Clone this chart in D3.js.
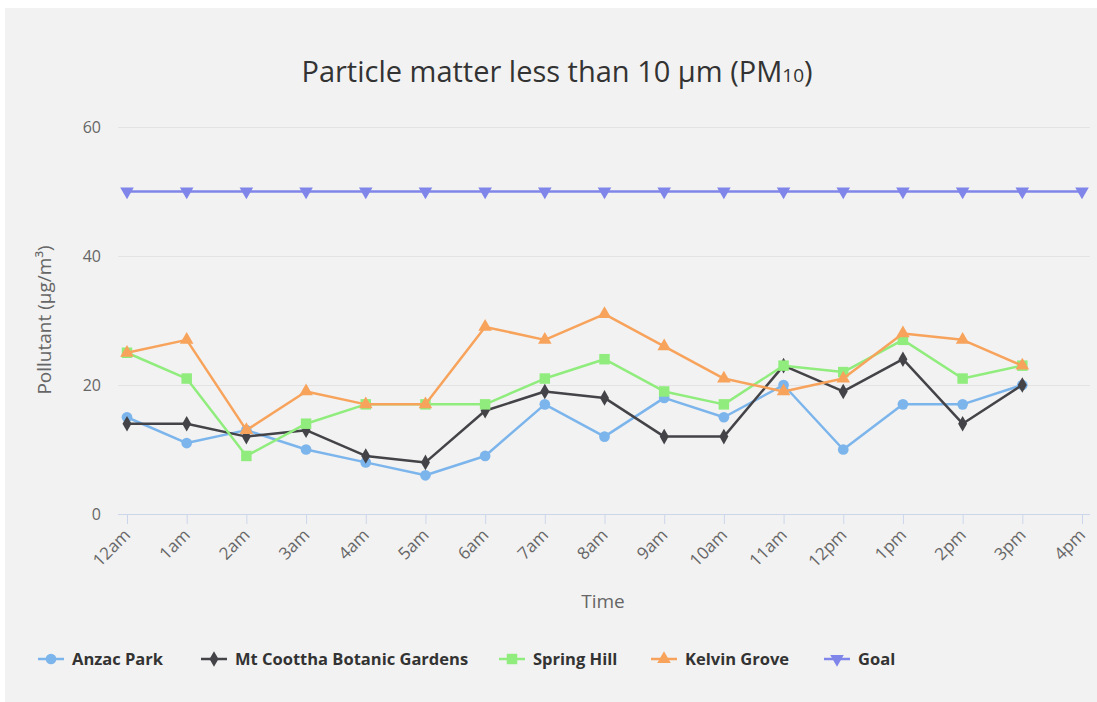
<!DOCTYPE html>
<html>
<head>
<meta charset="utf-8">
<script src="https://cdn.jsdelivr.net/npm/d3@7"></script>
<style>
  body { margin: 0; background: #fff; }
  svg { display: block; font-family: "Open Sans", sans-serif; }
</style>
</head>
<body>
<svg id="chart" width="1097" height="702"></svg>
<script>
const width = 1097;
const height = 702;

// Data
const hours = ["12am", "1am", "2am", "3am", "4am", "5am", "6am", "7am", "8am",
  "9am", "10am", "11am", "12pm", "1pm", "2pm", "3pm", "4pm"];
const anzacPark = [15, 11, 13, 10, 8, 6, 9, 17, 12, 18, 15, 20, 10, 17, 17, 20];
const mtCoottha = [14, 14, 12, 13, 9, 8, 16, 19, 18, 12, 12, 23, 19, 24, 14, 20];
const springHill = [25, 21, 9, 14, 17, 17, 17, 21, 24, 19, 17, 23, 22, 27, 21, 23];
const kelvinGrove = [25, 27, 13, 19, 17, 17, 29, 27, 31, 26, 21, 19, 21, 28, 27, 23];
const goal = [50, 50, 50, 50, 50, 50, 50, 50, 50, 50, 50, 50, 50, 50, 50, 50, 50];
const yTicks = [0, 20, 40, 60];

const series = [
  { name: "Anzac Park", values: anzacPark, color: "#7cb5ec", symbol: d3.symbolCircle, size: 90, lx: 38 },
  { name: "Mt Coottha Botanic Gardens", values: mtCoottha, color: "#434348", symbol: d3.symbolDiamond, size: 70, lx: 201 },
  { name: "Spring Hill", values: springHill, color: "#90ed7d", symbol: d3.symbolSquare, size: 110, lx: 499 },
  { name: "Kelvin Grove", values: kelvinGrove, color: "#f7a35c", symbol: d3.symbolTriangle, size: 80, lx: 651 },
  { name: "Goal", values: goal, color: "#8085e9", symbol: d3.symbolTriangle, size: 80, down: true, lx: 824 }
];

const svg = d3.select("#chart");

// panel background
svg.append("rect")
  .attr("x", 5).attr("y", 8)
  .attr("width", width - 5).attr("height", height - 8)
  .attr("fill", "#f2f2f2");

const x = d3.scalePoint().domain(hours).range([127, 1082]);
const y = d3.scaleLinear().domain([0, 60]).range([514, 127]);

// title
const title = svg.append("text")
  .attr("x", 557).attr("y", 82)
  .attr("text-anchor", "middle")
  .attr("font-size", 29)
  .attr("fill", "#333");
title.append("tspan").text("Particle matter less than 10 µm (PM");
title.append("tspan").attr("font-size", 19).text("10");
title.append("tspan").text(")");

// grid + y labels
const yAxis = d3.axisLeft(y).tickValues(yTicks).tickSize(-(1090 - 118)).tickPadding(17);
const gy = svg.append("g").attr("transform", "translate(118,0)").call(yAxis);
gy.select(".domain").remove();
gy.selectAll(".tick line").attr("stroke", "#e3e3e3");
gy.selectAll(".tick text").attr("font-size", 16).attr("fill", "#666")
  .attr("font-family", "Open Sans, sans-serif");

// x axis
const xAxis = d3.axisBottom(x).tickSize(10);
const gx = svg.append("g").attr("transform", "translate(0,514)").call(xAxis);
gx.select(".domain").attr("stroke", "#ccd6eb").attr("d", "M118,0.5H1090");
gx.selectAll(".tick line").attr("stroke", "#ccd6eb");
gx.selectAll(".tick text")
  .attr("font-size", 17).attr("fill", "#666")
  .attr("font-family", "Open Sans, sans-serif")
  .attr("text-anchor", "end")
  .attr("y", 0)
  .attr("dy", null)
  .attr("transform", "translate(4,22) rotate(-45)");

// axis titles
svg.append("text")
  .attr("transform", "translate(51,320) rotate(-90)")
  .attr("text-anchor", "middle")
  .attr("font-size", 19).attr("fill", "#666")
  .text("Pollutant (µg/m³)");

svg.append("text")
  .attr("x", 603).attr("y", 608)
  .attr("text-anchor", "middle")
  .attr("font-size", 19).attr("fill", "#666")
  .text("Time");

// lines and markers
const line = d3.line().x((d, i) => x(hours[i])).y(d => y(d));

series.forEach(s => {
  const g = svg.append("g");
  g.append("path")
    .datum(s.values)
    .attr("fill", "none")
    .attr("stroke", s.color)
    .attr("stroke-width", 2.5)
    .attr("stroke-linejoin", "round")
    .attr("d", line);
  g.selectAll("path.marker")
    .data(s.values)
    .enter()
    .append("path")
    .attr("class", "marker")
    .attr("d", d3.symbol(s.symbol, s.size))
    .attr("fill", s.color)
    .attr("transform", (d, i) => "translate(" + x(hours[i]) + "," + y(d) + ")" + (s.down ? " rotate(180)" : ""));
});

// legend
const legend = svg.append("g").attr("transform", "translate(0,659)");
series.forEach(s => {
  const item = legend.append("g").attr("transform", "translate(" + s.lx + ",0)");
  item.append("line")
    .attr("x1", 0).attr("x2", 26)
    .attr("stroke", s.color).attr("stroke-width", 2.5);
  item.append("path")
    .attr("d", d3.symbol(s.symbol, s.size))
    .attr("fill", s.color)
    .attr("transform", "translate(13,0)" + (s.down ? " rotate(180)" : ""));
  item.append("text")
    .attr("x", 34).attr("y", 6)
    .attr("font-size", 16.5).attr("font-weight", "bold")
    .attr("fill", "#333")
    .text(s.name);
});
</script>
</body>
</html>
